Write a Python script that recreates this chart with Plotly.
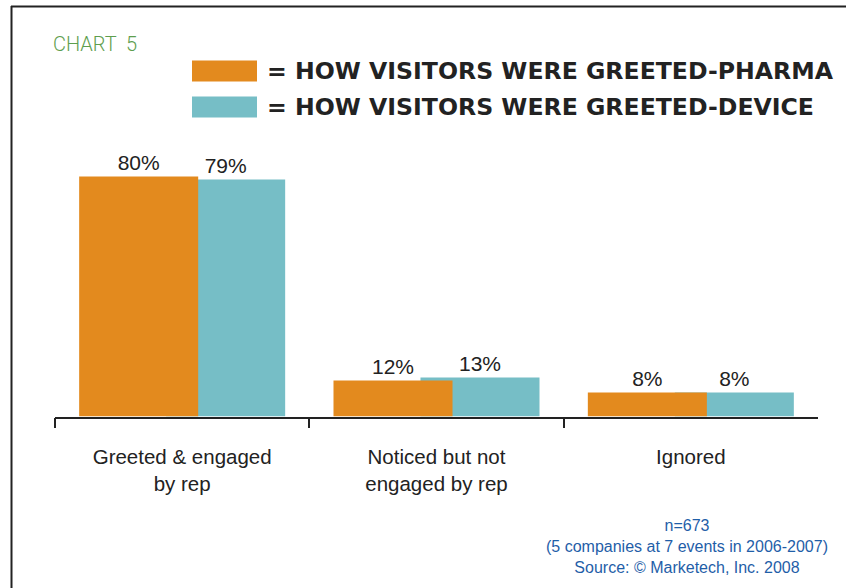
import plotly.graph_objects as go

# Visitor greeting outcomes at trade-show booths
categories = ["Greeted & engaged<br>by rep", "Noticed but not<br>engaged by rep", "Ignored"]
pharma = [80, 12, 8]
device = [79, 13, 8]

series_names = ["= HOW VISITORS WERE GREETED-PHARMA", "= HOW VISITORS WERE GREETED-DEVICE"]
chart_title = "CHART  5"
footnote = "n=673<br>(5 companies at 7 events in 2006-2007)<br>Source: © Marketech, Inc. 2008"

ORANGE = "#E38A1E"
TEAL = "#76BEC6"
INK = "#222222"

W, H = 846, 588


def px_x(x):
    return x / W


def px_y(y):
    return 1 - y / H


fig = go.Figure()

# Device bars sit behind, pharma bars overlap them from the left
fig.add_trace(go.Bar(
    x=categories, y=device, name=series_names[1],
    marker=dict(color=TEAL, line=dict(width=0)),
    offset=-0.063, width=0.468,
    texttemplate="%{y}%", textposition="outside",
    textfont=dict(family="Liberation Sans, Arial, sans-serif", size=21, color=INK),
    cliponaxis=False, showlegend=False,
))
fig.add_trace(go.Bar(
    x=categories, y=pharma, name=series_names[0],
    marker=dict(color=ORANGE, line=dict(width=0)),
    offset=-0.405, width=0.468,
    texttemplate="%{y}%", textposition="outside",
    textfont=dict(family="Liberation Sans, Arial, sans-serif", size=21, color=INK),
    cliponaxis=False, showlegend=False,
))

shapes = [
    # frame: top and left rules
    dict(type="line", xref="paper", yref="paper", x0=px_x(11), x1=1.0, y0=px_y(6.5), y1=px_y(6.5),
         line=dict(color=INK, width=2)),
    dict(type="line", xref="paper", yref="paper", x0=px_x(11.5), x1=px_x(11.5), y0=px_y(6), y1=0,
         line=dict(color=INK, width=2)),
]

annotations = [
    dict(text=chart_title, xref="paper", yref="paper", x=px_x(51), y=px_y(44),
         xanchor="left", yanchor="middle", showarrow=False,
         font=dict(family="Roboto, Liberation Sans, sans-serif", size=20, color="#5E9E4E", weight=300)),
    dict(text=footnote, xref="paper", yref="paper", x=px_x(687), y=px_y(546),
         xanchor="center", yanchor="middle", align="center", showarrow=False,
         font=dict(family="Liberation Sans, Arial, sans-serif", size=16, color="#1F5EA8")),
]

# Legend: colour swatches with bold captions
legend_rows = [(ORANGE, series_names[0], 71), (TEAL, series_names[1], 107)]
for color, label, yc in legend_rows:
    shapes.append(dict(type="rect", xref="paper", yref="paper",
                       x0=px_x(192), x1=px_x(257), y0=px_y(yc - 10.5), y1=px_y(yc + 10.5),
                       fillcolor=color, line=dict(width=0)))
    annotations.append(dict(text=label, xref="paper", yref="paper", x=px_x(265), y=px_y(yc),
                            xanchor="left", yanchor="middle", showarrow=False,
                            font=dict(family="DejaVu Sans, sans-serif", size=23.6, color=INK, weight="bold")))

fig.update_layout(
    width=W, height=H,
    margin=dict(l=0, r=0, t=0, b=0),
    paper_bgcolor="white", plot_bgcolor="white",
    barmode="overlay",
    shapes=shapes, annotations=annotations,
    showlegend=False,
    xaxis=dict(
        domain=[px_x(55), px_x(818)],
        type="category",
        showline=True, linecolor=INK, linewidth=1.5,
        ticks="outside", tickson="boundaries", ticklen=10, tickwidth=1.5, tickcolor=INK,
        ticklabelstandoff=21,
        tickfont=dict(family="Liberation Sans, Arial, sans-serif", size=20.5, color=INK),
        showgrid=False, zeroline=False,
    ),
    yaxis=dict(
        domain=[px_y(416.5), px_y(116.5)],
        range=[0, 100],
        visible=False, showgrid=False, zeroline=False,
    ),
)

fig.write_html("out.html")
